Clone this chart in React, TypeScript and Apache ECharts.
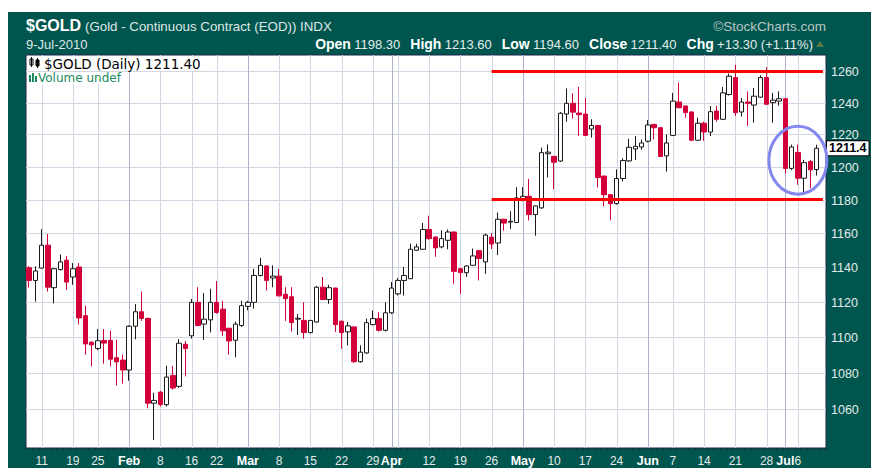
import React, { useEffect, useRef } from 'react';
import * as echarts from 'echarts';

// Trading days (category axis); last slot left empty like the source chart
const dates: string[] = [
  'Jan 7', 'Jan 8', 'Jan 11', 'Jan 12', 'Jan 13', 'Jan 14', 'Jan 15', 'Jan 19', 'Jan 20', 'Jan 21', 'Jan 22',
  'Jan 25', 'Jan 26', 'Jan 27', 'Jan 28', 'Jan 29',
  'Feb 1', 'Feb 2', 'Feb 3', 'Feb 4', 'Feb 5', 'Feb 8', 'Feb 9', 'Feb 10', 'Feb 11', 'Feb 12',
  'Feb 16', 'Feb 17', 'Feb 18', 'Feb 19', 'Feb 22', 'Feb 23', 'Feb 24', 'Feb 25', 'Feb 26',
  'Mar 1', 'Mar 2', 'Mar 3', 'Mar 4', 'Mar 5', 'Mar 8', 'Mar 9', 'Mar 10', 'Mar 11', 'Mar 12',
  'Mar 15', 'Mar 16', 'Mar 17', 'Mar 18', 'Mar 19', 'Mar 22', 'Mar 23', 'Mar 24', 'Mar 25', 'Mar 26',
  'Mar 29', 'Mar 30', 'Mar 31',
  'Apr 1', 'Apr 5', 'Apr 6', 'Apr 7', 'Apr 8', 'Apr 9', 'Apr 12', 'Apr 13', 'Apr 14', 'Apr 15', 'Apr 16',
  'Apr 19', 'Apr 20', 'Apr 21', 'Apr 22', 'Apr 23', 'Apr 26', 'Apr 27', 'Apr 28', 'Apr 29', 'Apr 30',
  'May 3', 'May 4', 'May 5', 'May 6', 'May 7', 'May 10', 'May 11', 'May 12', 'May 13', 'May 14',
  'May 17', 'May 18', 'May 19', 'May 20', 'May 21', 'May 24', 'May 25', 'May 26', 'May 27', 'May 28',
  'Jun 1', 'Jun 2', 'Jun 3', 'Jun 4', 'Jun 7', 'Jun 8', 'Jun 9', 'Jun 10', 'Jun 11',
  'Jun 14', 'Jun 15', 'Jun 16', 'Jun 17', 'Jun 18', 'Jun 21', 'Jun 22', 'Jun 23', 'Jun 24', 'Jun 25',
  'Jun 28', 'Jun 29', 'Jun 30', 'Jul 1', 'Jul 2', 'Jul 6', 'Jul 7', 'Jul 8', 'Jul 9', '',
];

// [open, close, low, high]
const ohlc: number[][] = [
  [1139.6, 1132.2, 1128, 1140.5], [1132.2, 1137.7, 1120, 1140.4], [1139.4, 1152.8, 1139, 1162.3],
  [1152.8, 1128.3, 1125.8, 1159.4], [1128, 1139, 1119, 1139.5], [1138.5, 1143, 1138, 1147.4],
  [1144, 1131.3, 1126.8, 1146.4], [1134.2, 1139, 1129.7, 1142.3], [1140, 1110.7, 1107, 1142.3],
  [1112, 1096, 1090, 1117.7], [1097, 1095.5, 1083.5, 1097.5], [1093.5, 1097.8, 1092.5, 1104.4],
  [1098, 1096.5, 1085, 1104.4], [1098, 1087.5, 1083.5, 1103.5], [1088.3, 1086, 1073, 1098.5],
  [1087, 1081.5, 1074, 1090],
  [1081.5, 1106, 1075.6, 1106.5], [1106, 1114.2, 1098.6, 1118.6], [1114.2, 1110.4, 1109, 1125.8],
  [1110.4, 1063.3, 1060.5, 1111], [1063.3, 1064.8, 1043.5, 1069], [1069.3, 1062.5, 1061.5, 1070],
  [1062.5, 1077.6, 1061.5, 1083.8], [1078.5, 1071.6, 1070.7, 1083.8], [1072.5, 1096.4, 1071.6, 1098.6],
  [1095.8, 1093.5, 1078, 1097.7], [1100.6, 1119.6, 1099, 1121.5], [1119.6, 1106.4, 1106, 1128.3],
  [1107.2, 1110, 1098.3, 1124.9], [1109.6, 1119.6, 1102.5, 1127.4], [1119.6, 1113.8, 1113, 1131.8],
  [1115.7, 1103.4, 1100.6, 1120.5], [1104.9, 1097.7, 1090, 1105], [1098.1, 1107.2, 1088.5, 1108.6],
  [1106.4, 1117.7, 1105.6, 1120.5],
  [1117.3, 1119.6, 1115, 1120.5], [1119.6, 1135.1, 1116, 1139], [1135.1, 1141, 1134.5, 1145.4],
  [1140.6, 1132.2, 1126.4, 1141], [1133.6, 1134.7, 1128.3, 1141], [1134.7, 1123.3, 1123, 1139],
  [1124.2, 1121.7, 1109, 1128.3], [1122.8, 1108.1, 1103, 1128.3], [1110, 1110.5, 1101, 1113],
  [1109.3, 1102.4, 1099, 1119.6], [1102.4, 1109.3, 1102, 1109.5], [1108.4, 1128.3, 1108, 1129],
  [1128.3, 1121.2, 1121, 1134.2], [1121.2, 1128, 1118.7, 1129.7], [1127.8, 1106.9, 1102.8, 1128],
  [1108.8, 1102.4, 1093.3, 1109.3], [1102.8, 1106.2, 1095.2, 1108.4], [1105.6, 1086.1, 1085.5, 1106],
  [1086.1, 1091.4, 1085.5, 1095.2], [1091, 1108, 1090.5, 1110.3], [1106.9, 1110.3, 1106.5, 1115],
  [1110.3, 1103.7, 1103, 1114], [1103.7, 1113.6, 1103, 1119.6],
  [1113.6, 1127.8, 1113, 1131.3], [1124.5, 1132.2, 1123.5, 1133.6], [1132.2, 1135.1, 1123.5, 1140],
  [1133.2, 1150.4, 1133, 1153.7], [1149.8, 1151.8, 1149.5, 1153.7], [1150.4, 1162.1, 1150, 1166],
  [1162.1, 1156.7, 1156, 1170.3], [1157.6, 1151.2, 1146, 1158], [1151.8, 1156.7, 1151, 1161.6],
  [1155.7, 1160.6, 1150.4, 1162.1], [1160.6, 1137.5, 1130.3, 1161], [1139, 1136.7, 1124.5, 1139.5],
  [1136.7, 1140.6, 1134.2, 1141], [1141, 1146.5, 1140.6, 1150.8], [1149.6, 1145, 1132.2, 1150],
  [1143, 1158.8, 1136, 1159.6], [1157.5, 1153.5, 1150.6, 1160], [1154.1, 1168.2, 1147, 1172.2],
  [1168.2, 1165.9, 1161.4, 1168.5], [1166.5, 1167, 1162.4, 1173], [1166.3, 1181, 1166, 1187.5],
  [1180.4, 1182, 1179, 1187.5], [1182, 1171, 1167.5, 1192.6], [1171, 1176.2, 1158.4, 1176.5],
  [1175, 1208.7, 1174.5, 1211.8], [1208, 1209, 1193.4, 1213.8], [1206.4, 1202.8, 1186.3, 1206.5],
  [1203.5, 1233.3, 1203, 1234], [1232.8, 1239.6, 1228, 1249], [1239.6, 1234, 1230, 1246],
  [1233.4, 1232.4, 1219, 1250], [1232.8, 1219.4, 1219, 1243], [1223.4, 1225.6, 1218, 1229.5],
  [1225.6, 1193.4, 1187.3, 1226], [1194.3, 1183, 1176, 1194.5], [1183, 1177.6, 1167.6, 1183.2],
  [1177.6, 1192.8, 1177, 1198.4], [1192.8, 1203.8, 1191, 1205.3], [1203.6, 1212, 1203, 1217.3],
  [1211, 1212.6, 1204.2, 1219], [1212.2, 1214.7, 1210.5, 1216.8],
  [1215.8, 1225.9, 1215, 1229], [1226.3, 1224.2, 1216.8, 1226.5], [1224.2, 1206.3, 1206, 1224.5],
  [1206.7, 1214.7, 1197, 1220], [1219.4, 1241, 1219, 1246.2], [1240.4, 1236.8, 1236.5, 1252.8],
  [1237.9, 1233.7, 1230.5, 1238], [1234.1, 1216.4, 1215.8, 1234.5], [1216.4, 1227, 1216, 1230.5],
  [1227, 1221.5, 1216, 1228], [1221.5, 1234.3, 1219, 1237.9], [1234.7, 1229.5, 1228, 1238],
  [1229.5, 1246.2, 1229, 1250], [1245.2, 1256.9, 1244.5, 1258.6], [1256, 1233.7, 1231.6, 1264.3],
  [1234.1, 1240.4, 1231.2, 1242.9], [1240.4, 1239.6, 1225.3, 1247.2], [1238.5, 1244.1, 1227.4, 1249.3],
  [1243.5, 1256, 1243, 1257.5], [1256, 1239, 1238.5, 1262.7], [1240, 1241.6, 1227.4, 1246.2],
  [1241, 1242.5, 1238, 1247.2], [1242.5, 1199, 1196, 1243], [1199, 1212.2, 1198, 1213.7],
  [1208.8, 1193, 1189, 1213.7], [1193, 1202.5, 1184, 1204.2], [1203.2, 1198.1, 1187, 1204.2],
  [1198.3, 1211.4, 1194.6, 1213.6],
];

const yTicks: number[] = [1060, 1080, 1100, 1120, 1140, 1160, 1180, 1200, 1220, 1240, 1260];
const yMin = 1039.2;
const yMax = 1270.6;

// vertical grid lines: week starts and month starts
const weekLines: string[] = [
  'Jan 11', 'Jan 19', 'Jan 25', 'Feb 8', 'Feb 16', 'Feb 22', 'Mar 8', 'Mar 15', 'Mar 22', 'Mar 29',
  'Apr 5', 'Apr 12', 'Apr 19', 'Apr 26', 'May 10', 'May 17', 'May 24', 'Jun 7', 'Jun 14', 'Jun 21',
  'Jun 28', 'Jul 6',
];
const monthLines: string[] = ['Feb 1', 'Mar 1', 'Apr 1', 'May 3', 'Jun 1', 'Jul 1'];

// x tick labels
const xLabelDates: string[] = [
  'Jan 11', 'Jan 19', 'Jan 25', 'Feb 1', 'Feb 8', 'Feb 16', 'Feb 22', 'Mar 1', 'Mar 8', 'Mar 15',
  'Mar 22', 'Mar 29', 'Apr 1', 'Apr 12', 'Apr 19', 'Apr 26', 'May 3', 'May 10', 'May 17', 'May 24',
  'Jun 1', 'Jun 7', 'Jun 14', 'Jun 21', 'Jun 28', 'Jul 1', 'Jul 6',
];
const xLabelTexts: string[] = [
  '11', '19', '25', 'Feb', '8', '16', '22', 'Mar', '8', '15',
  '22', '29', 'Apr', '12', '19', '26', 'May', '10', '17', '24',
  'Jun', '7', '14', '21', '28', 'Jul', '6',
];

// annotation levels
const resistance = 1260;
const support = 1180;
const trendStart = 'Apr 26';
const circleAt = { date: 'Jul 6', price: 1204 };

const RED = '#d4003a';
const FONT = '"Liberation Sans", Arial, sans-serif';

export default function App() {
  const ref = useRef<HTMLDivElement>(null);

  useEffect(() => {
    const chart = echarts.init(ref.current!, null, { renderer: 'svg' });
    const last = ohlc[ohlc.length - 1];
    const prevClose = ohlc[ohlc.length - 2][1];
    const chg = last[1] - prevClose;
    const pct = (chg / prevClose) * 100;
    const lastIdx = dates.length - 1;

    const option: any = {
      animation: false,
      backgroundColor: 'transparent',
      grid: {
        left: 26, right: 45, top: 55, bottom: 20,
        show: true, backgroundColor: '#ffffff', borderColor: '#1c2748', borderWidth: 1,
      },
      xAxis: {
        type: 'category',
        data: dates,
        boundaryGap: true,
        axisLine: { show: false },
        axisTick: { show: true, interval: 0, length: 2, lineStyle: { color: '#102a3a' } },
        splitLine: { show: false },
        axisLabel: { show: false },
      },
      yAxis: {
        type: 'log', logBase: 10, min: yMin, max: yMax, position: 'right',
        axisLine: { show: false }, axisTick: { show: false }, axisLabel: { show: false },
        splitLine: { show: false },
      },
      series: [
        {
          type: 'custom',
          z: 1,
          silent: true,
          clip: false,
          data: yTicks.map((v) => [0, v]),
          renderItem: (params: any, api: any) => {
            const cs = params.coordSys;
            const v = api.value(1);
            const y = Math.round(api.coord([0, v])[1]) + 0.5;
            return {
              type: 'group',
              children: [
                { type: 'line', shape: { x1: cs.x, y1: y, x2: cs.x + cs.width, y2: y }, style: { stroke: '#d3d6e3', lineWidth: 1 } },
                {
                  type: 'text',
                  style: {
                    text: String(v), x: cs.x + cs.width + 5, y, align: 'left', verticalAlign: 'middle',
                    fill: '#e4ebea', fontSize: 12.5, fontFamily: FONT,
                  },
                },
              ],
            };
          },
        },
        {
          type: 'custom',
          z: 1,
          silent: true,
          clip: false,
          data: [...weekLines.map((d) => [d, 0]), ...monthLines.map((d) => [d, 1])],
          renderItem: (params: any, api: any) => {
            const cs = params.coordSys;
            const x = Math.round(api.coord([api.value(0), 1200])[0]) + 0.5;
            const isMonth = api.value(1) === 1;
            return {
              type: 'line',
              shape: { x1: x, y1: cs.y, x2: x, y2: cs.y + cs.height },
              style: { stroke: isMonth ? '#aeb3c9' : '#d3d6e3', lineWidth: 1 },
            };
          },
        },
        {
          // date labels under the axis
          type: 'custom',
          z: 1,
          silent: true,
          clip: false,
          data: xLabelDates.map((d) => [d, 1200]),
          renderItem: (params: any, api: any) => {
            const cs = params.coordSys;
            const x = api.coord([api.value(0), 1200])[0];
            const text = xLabelTexts[params.dataIndex];
            const isMonth = monthLines.includes(xLabelDates[params.dataIndex]);
            return {
              type: 'text',
              style: {
                text, x, y: cs.y + cs.height + 13, align: 'center', verticalAlign: 'middle',
                fill: isMonth ? '#ffffff' : '#e4ebea',
                fontSize: isMonth ? 12.5 : 12, fontWeight: isMonth ? 'bold' : 'normal', fontFamily: FONT,
              },
            };
          },
        },
        {
          type: 'candlestick',
          z: 3,
          barWidth: 5,
          data: ohlc,
          itemStyle: {
            color: '#ffffff', color0: RED, borderColor: '#1a1a1a', borderColor0: RED, borderWidth: 1,
          },
          markLine: {
            silent: true,
            symbol: ['none', 'none'],
            animation: false,
            data: [
              [
                { coord: [trendStart, resistance], lineStyle: { color: '#ff0000', width: 3, type: 'solid' } },
                { coord: [lastIdx, resistance] },
              ],
              [
                { coord: [trendStart, support], lineStyle: { color: '#ff0000', width: 3, type: 'solid' } },
                { coord: [lastIdx, support] },
              ],
              {
                yAxis: last[1],
                lineStyle: { color: 'rgba(0,0,0,0)', width: 0 },
                label: {
                  show: true, position: 'end', distance: 1,
                  formatter: last[1].toFixed(1),
                  color: '#000', fontWeight: 'bold', fontSize: 12.5, fontFamily: FONT,
                  backgroundColor: '#ffffff', borderColor: '#000', borderWidth: 1, padding: [1, 2, 0, 2],
                },
              },
            ],
            label: { show: false },
          },
        },
      ],
      graphic: [
        { id: 'sym', type: 'text', z: 10, style: { text: '$GOLD', x: 26, y: 25, verticalAlign: 'middle', fill: '#ffffff', font: `bold 16px ${FONT}` } },
        { id: 'name', type: 'text', z: 10, style: { text: '(Gold - Continuous Contract (EOD)) INDX', x: 85, y: 26, verticalAlign: 'middle', fill: '#dfe7e6', font: `13.3px ${FONT}` } },
        { id: 'date', type: 'text', z: 10, style: { text: '9-Jul-2010', x: 26, y: 44, verticalAlign: 'middle', fill: '#dfe7e6', font: `13px ${FONT}` } },
        { id: 'brand', type: 'text', z: 10, style: { text: '\u00a9StockCharts.com', x: 826, y: 26, align: 'right', verticalAlign: 'middle', fill: '#b9c7c5', font: `13.5px ${FONT}` } },
        {
          id: 'quote', type: 'text', z: 10,
          style: {
            text: `{l|Open} {v|${last[0].toFixed(2)}}   {l|High} {v|${last[3].toFixed(2)}}   {l|Low} {v|${last[2].toFixed(2)}}   {l|Close} {v|${last[1].toFixed(2)}}   {l|Chg} {v|${chg >= 0 ? '+' : ''}${chg.toFixed(2)} (${chg >= 0 ? '+' : ''}${pct.toFixed(2)}%)}`,
            x: 813, y: 44, align: 'right', verticalAlign: 'middle',
            rich: {
              l: { fill: '#ffffff', fontWeight: 'bold', fontSize: 14, fontFamily: FONT },
              v: { fill: '#e4ebea', fontSize: 13, fontFamily: FONT },
            },
          },
        },
        { id: 'tri', type: 'polygon', z: 10, shape: { points: [[816, 47], [824, 47], [820, 41]] }, style: { fill: '#5a7b45' } },
        // legend inside plot
        { id: 'legbg', type: 'rect', z: 10, shape: { x: 27, y: 56, width: 179, height: 15 }, style: { fill: '#ffffff' } },
        { id: 'ic1', type: 'rect', z: 11, shape: { x: 30, y: 59, width: 3, height: 6 }, style: { fill: '#fff', stroke: '#000', lineWidth: 1 } },
        { id: 'ic2', type: 'rect', z: 11, shape: { x: 36, y: 60, width: 3, height: 6 }, style: { fill: '#000', stroke: '#000', lineWidth: 1 } },
        { id: 'ic3', type: 'line', z: 11, shape: { x1: 31.5, y1: 57, x2: 31.5, y2: 67 }, style: { stroke: '#000', lineWidth: 1 } },
        { id: 'ic4', type: 'line', z: 11, shape: { x1: 37.5, y1: 58, x2: 37.5, y2: 68 }, style: { stroke: '#000', lineWidth: 1 } },
        { id: 'leg', type: 'text', z: 11, style: { text: `$GOLD (Daily) ${last[1].toFixed(2)}`, x: 44, y: 63.5, verticalAlign: 'middle', fill: '#000', font: '13.5px "DejaVu Sans", sans-serif' } },
        { id: 'vb1', type: 'rect', z: 11, shape: { x: 29, y: 75, width: 2, height: 7 }, style: { fill: '#1a8a5e' } },
        { id: 'vb2', type: 'rect', z: 11, shape: { x: 32, y: 73, width: 2, height: 9 }, style: { fill: '#1a8a5e' } },
        { id: 'vb3', type: 'rect', z: 11, shape: { x: 35, y: 76, width: 2, height: 6 }, style: { fill: '#1a8a5e' } },
        { id: 'vol', type: 'text', z: 11, style: { text: 'Volume undef', x: 38, y: 78, verticalAlign: 'middle', fill: '#1a8a5e', backgroundColor: '#ffffff', font: '12px "DejaVu Sans", sans-serif' } },
      ],
    };

    chart.setOption(option);
    const c = chart.convertToPixel({ gridIndex: 0 }, [dates.indexOf(circleAt.date), circleAt.price]) as number[];
    chart.setOption({
      graphic: [
        {
          id: 'circle', type: 'ellipse', z: 20,
          shape: { cx: c[0], cy: c[1], rx: 29, ry: 34 },
          style: { fill: 'none', stroke: '#8488ee', lineWidth: 3 },
        },
      ],
    });
    return () => chart.dispose();
  }, []);

  return (
    <div style={{ position: 'fixed', left: 0, top: 0, width: 871, height: 468, background: '#ffffff' }}>
      <div style={{ position: 'absolute', left: 8, top: 12, width: 863, height: 456, background: '#00564f' }} />
      <div ref={ref} style={{ position: 'absolute', left: 0, top: 0, width: 871, height: 468 }} />
    </div>
  );
}
